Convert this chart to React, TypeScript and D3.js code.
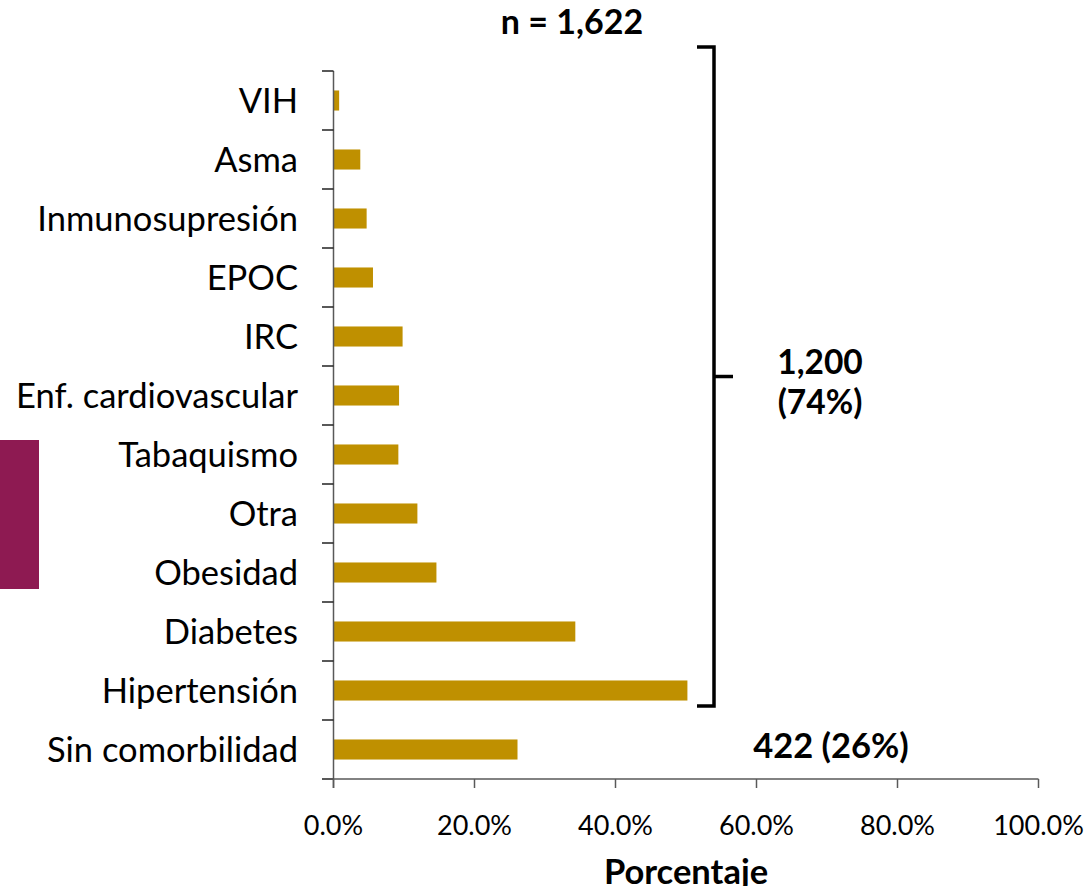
import React from "react";
import * as d3 from "d3";

const categories = ["VIH", "Asma", "Inmunosupresión", "EPOC", "IRC", "Enf. cardiovascular", "Tabaquismo", "Otra", "Obesidad", "Diabetes", "Hipertensión", "Sin comorbilidad"];
const values = [0.8, 3.8, 4.7, 5.6, 9.8, 9.3, 9.2, 11.9, 14.6, 34.3, 50.2, 26.1];
const xTicks = [0, 20, 40, 60, 80, 100];
const totalLabel = "n = 1,622";
const groupLabel = ["1,200", "(74%)"];
const noneLabel = "422 (26%)";
const axisTitle = "Porcentaje";

const W = 1089;
const H = 886;
const FONT = "Lato, 'Open Sans', sans-serif";
const BAR = "#BF9000";
const AXIS = "#595959";

export default function App() {
  const x = d3.scaleLinear().domain([0, 100]).range([333.5, 1038.5]);
  const y = d3.scaleBand<string>().domain(categories).range([71, 779]).paddingInner(0.66).paddingOuter(0.33);
  const step = y.step();
  const boundaries = d3.range(categories.length + 1).map((i) => 71 + i * step);
  const fmt = (v: number) => v.toFixed(1) + "%";

  const hipY = (y("Hipertensión") as number) + y.bandwidth() + 5.5;
  const bracketTop = 47;
  const bracketX = 714;
  const midY = (bracketTop + hipY) / 2;

  return (
    <svg width={W} height={H} style={{ position: "absolute", left: 0, top: 0, display: "block" }} fontFamily={FONT}>
      <rect x={0} y={440} width={39} height={149} fill="#8E1A52" />
      {categories.map((c, i) => (
        <rect key={c} x={x(0)} y={y(c)} width={x(values[i]) - x(0)} height={y.bandwidth()} fill={BAR} />
      ))}
      {/* y axis */}
      <line x1={333.5} x2={333.5} y1={71} y2={788} stroke={AXIS} strokeWidth={1.5} />
      {boundaries.map((b, i) => (
        <line key={i} x1={322} x2={333.5} y1={b} y2={b} stroke="#222" strokeWidth={1.5} />
      ))}
      {categories.map((c) => (
        <text key={c} x={298} y={(y(c) as number) + y.bandwidth() / 2} dy="0.36em" textAnchor="end" fontSize={34.5} fill="#000">
          {c}
        </text>
      ))}
      {/* x axis */}
      <line x1={322} x2={x(100)} y1={779} y2={779} stroke={AXIS} strokeWidth={1.5} />
      {xTicks.map((t) => (
        <g key={t}>
          <line x1={x(t)} x2={x(t)} y1={779} y2={788} stroke={AXIS} strokeWidth={1.5} />
          <text x={x(t)} y={835} textAnchor="middle" fontSize={27} fill="#000">
            {fmt(t)}
          </text>
        </g>
      ))}
      <text x={686} y={884} textAnchor="middle" fontSize={34.5} fontWeight="bold" fill="#000">
        {axisTitle}
      </text>
      <text x={572} y={34} textAnchor="middle" fontSize={34} fontWeight="bold" fill="#000">
        {totalLabel}
      </text>
      {/* bracket */}
      <path
        d={`M${697},${bracketTop} H${bracketX} V${hipY} H${697}`}
        fill="none"
        stroke="#000"
        strokeWidth={3.5}
      />
      <line x1={bracketX} x2={733} y1={midY} y2={midY} stroke="#000" strokeWidth={3.5} />
      <text x={820} y={374} textAnchor="middle" fontSize={33.5} fontWeight="bold" fill="#000">
        {groupLabel[0]}
      </text>
      <text x={820} y={414} textAnchor="middle" fontSize={33.5} fontWeight="bold" fill="#000">
        {groupLabel[1]}
      </text>
      <text x={831} y={758} textAnchor="middle" fontSize={34.5} fontWeight="bold" fill="#000">
        {noneLabel}
      </text>
    </svg>
  );
}
